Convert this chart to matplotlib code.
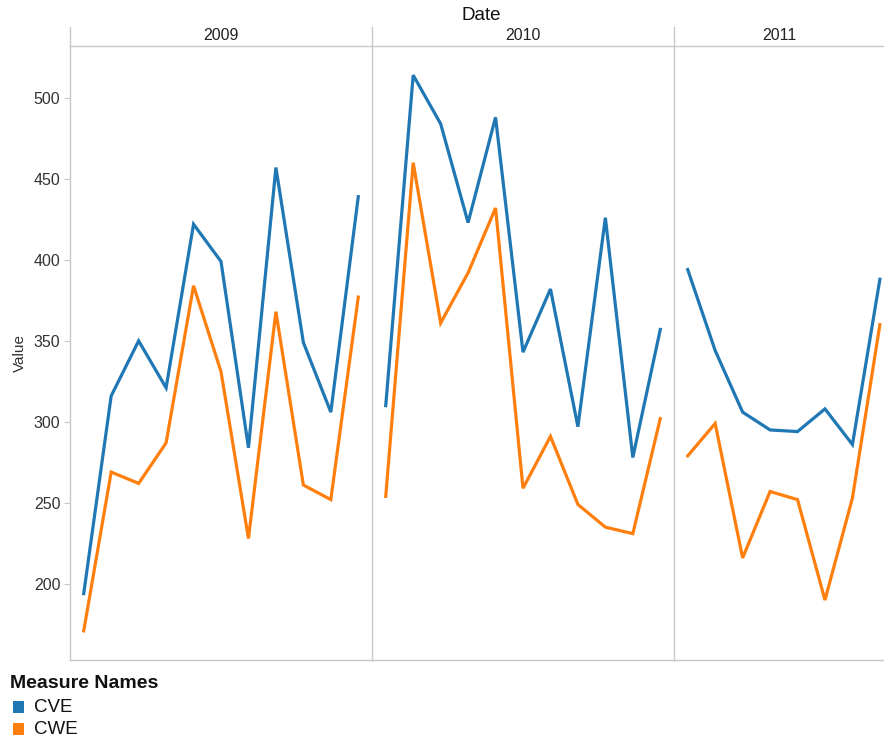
"""Tableau-style CVE / CWE monthly lines, faceted by year."""

import numpy as np
import matplotlib
matplotlib.use('Agg')
import matplotlib.pyplot as plt
from matplotlib.lines import Line2D
from matplotlib.patches import Rectangle

plt.rcParams['font.family'] = ['Liberation Sans', 'DejaVu Sans']

# Data
years = ['2009', '2010', '2011']
cve_2009 = [194, 316, 350, 321, 422, 399, 284, 457, 349, 306, 439]
cwe_2009 = [171, 269, 262, 287, 384, 331, 228, 368, 261, 252, 377]
cve_2010 = [310, 514, 484, 423, 488, 343, 382, 297, 426, 278, 357]
cwe_2010 = [254, 460, 361, 392, 432, 259, 291, 249, 235, 231, 302]
cve_2011 = [394, 344, 306, 295, 294, 308, 286, 388]
cwe_2011 = [279, 299, 216, 257, 252, 190, 253, 360]
series_names = ['CVE', 'CWE']
colors = ['#1f77b4', '#ff7f0e']
yticks = [200, 250, 300, 350, 400, 450, 500]

cve = [cve_2009, cve_2010, cve_2011]
cwe = [cwe_2009, cwe_2010, cwe_2011]

W, H = 884, 740
fig = plt.figure(figsize=(W / 100, H / 100), dpi=100)
grid_col = '#c8c8c8'

# panel geometry in pixels
lefts = [70, 372, 674]
widths = [302, 302, 210]
xlims = [(-0.5, 10.5), (-0.5, 10.5), (-0.5, 7.15)]
top_px, bot_px, head_px = 46, 660, 27

for i, yr in enumerate(years):
    ax = fig.add_axes([lefts[i] / W, 1 - bot_px / H, widths[i] / W, (bot_px - top_px) / H])
    x = np.arange(len(cve[i]))
    ax.plot(x, cve[i], color=colors[0], lw=2.3, solid_joinstyle='miter')
    ax.plot(x, cwe[i], color=colors[1], lw=2.3, solid_joinstyle='miter')
    ax.set_xlim(*xlims[i])
    ax.set_ylim(153, 532)
    ax.set_xticks([])
    ax.spines['right'].set_visible(False)
    for s in ['left', 'bottom', 'top']:
        ax.spines[s].set_color(grid_col)
        ax.spines[s].set_linewidth(1.0)
    if i == 0:
        ax.set_yticks(yticks)
        ax.tick_params(axis='y', length=4, color=grid_col, labelsize=11.5,
                       labelcolor='#333333', pad=3)
        ax.set_ylabel('Value', fontsize=11, color='#333333', labelpad=5)
    else:
        ax.set_yticks([])
    # year header
    fig.text((lefts[i] + widths[i] / 2) / W, 1 - 36 / H, yr, ha='center', va='center',
             fontsize=11.5, color='#222222')
    # separator line extending into header
    fig.add_artist(Line2D([lefts[i] / W, lefts[i] / W], [1 - top_px / H, 1 - head_px / H],
                          color=grid_col, lw=1.0))

fig.text(481 / W, 1 - 15 / H, 'Date', ha='center', va='center', fontsize=13.5, color='#111111')

# legend
fig.text(10 / W, 1 - 684 / H, 'Measure Names', ha='left', va='center', fontsize=14,
         fontweight='bold', color='#111111')
for k, (name, c) in enumerate(zip(series_names, colors)):
    yc = 707 + k * 22
    fig.add_artist(Rectangle((13 / W, 1 - (yc + 6) / H), 11 / W, 12 / H,
                             transform=fig.transFigure, color=c, lw=0))
    fig.text(34 / W, 1 - yc / H, name, ha='left', va='center', fontsize=13.5, color='#111111')

fig.savefig('out.png', dpi=100)
